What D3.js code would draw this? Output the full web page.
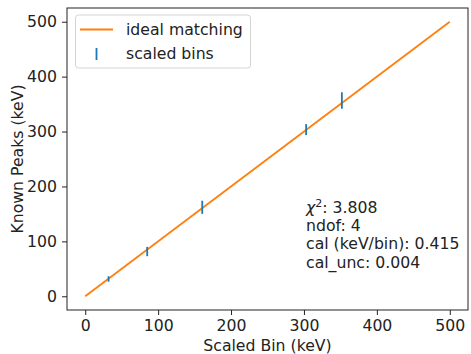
<!DOCTYPE html>
<html>
<head>
<meta charset="utf-8">
<script src="https://cdn.jsdelivr.net/npm/d3@7"></script>
<style>
    body { margin: 0; background: #fff; }
    svg { display: block; font-family: "DejaVu Sans", sans-serif; }
</style>
</head>
<body>
<div class="wrapper"></div>
<script>
let width = 471;
let height = 354;
let fontSize = 15.7;

// data
let scaledBins = [32, 85, 160.5, 303, 352];
let knownPeaks = [31.5, 81.5, 162, 303.5, 356.5];
let peakErrors = [5, 8.5, 12, 10, 15];
let idealLine = [0, 500];
let tickValues = [0, 100, 200, 300, 400, 500];
let fitText = ["ndof: 4", "cal (keV/bin): 0.415", "cal_unc: 0.004"];
let legendLabels = ["ideal matching", "scaled bins"];

let margin = {left: 67, right: 3, top: 8, bottom: 44};

let svg = d3.select(".wrapper")
    .append("svg")
    .attr("width", width)
    .attr("height", height);

let x = d3.scaleLinear()
    .domain([-25, 525])
    .range([margin.left, width - margin.right]);

let y = d3.scaleLinear()
    .domain([-25, 525])
    .range([height - margin.bottom, margin.top]);

let xAxis = svg.append("g")
    .attr("transform", "translate(0," + (height - margin.bottom) + ")")
    .call(d3.axisBottom(x).tickValues(tickValues).tickSize(5).tickPadding(5));

let yAxis = svg.append("g")
    .attr("transform", "translate(" + margin.left + ",0)")
    .call(d3.axisLeft(y).tickValues(tickValues).tickSize(5).tickPadding(5));

[xAxis, yAxis].forEach(function (g) {
    g.select(".domain").remove();
    g.selectAll("text")
        .attr("font-size", fontSize)
        .attr("fill", "#222")
        .attr("font-family", "DejaVu Sans");
    g.selectAll("line").attr("stroke", "#222");
});

// frame
svg.append("rect")
    .attr("x", margin.left)
    .attr("y", margin.top)
    .attr("width", width - margin.left - margin.right)
    .attr("height", height - margin.top - margin.bottom)
    .attr("fill", "none")
    .attr("stroke", "#222")
    .attr("stroke-width", 1);

// ideal matching line
svg.append("line")
    .attr("x1", x(idealLine[0]))
    .attr("y1", y(idealLine[0]))
    .attr("x2", x(idealLine[1]))
    .attr("y2", y(idealLine[1]))
    .attr("stroke", "#ff7f0e")
    .attr("stroke-width", 1.8);

// error bars
svg.selectAll(".errbar")
    .data(scaledBins)
    .enter()
    .append("line")
    .classed("errbar", true)
    .attr("x1", function (d) {return x(d)})
    .attr("x2", function (d) {return x(d)})
    .attr("y1", function (d, i) {return y(knownPeaks[i] - peakErrors[i])})
    .attr("y2", function (d, i) {return y(knownPeaks[i] + peakErrors[i])})
    .attr("stroke", "#1f77b4")
    .attr("stroke-width", 1.8);

// axis labels
svg.append("text")
    .attr("x", (margin.left + width - margin.right) / 2)
    .attr("y", 351)
    .attr("text-anchor", "middle")
    .attr("font-size", fontSize)
    .attr("fill", "#222")
    .text("Scaled Bin (keV)");

svg.append("text")
    .attr("transform", "translate(23," + ((margin.top + height - margin.bottom) / 2) + ") rotate(-90)")
    .attr("text-anchor", "middle")
    .attr("font-size", fontSize)
    .attr("fill", "#222")
    .text("Known Peaks (keV)");

// fit summary
let note = svg.append("text")
    .attr("x", 306)
    .attr("y", 213)
    .attr("font-size", fontSize)
    .attr("fill", "#222");
note.append("tspan").attr("font-style", "italic").text("\u03C7");
note.append("tspan").attr("dy", -6).attr("font-size", 11).text("2");
note.append("tspan").attr("dy", 6).text(": 3.808");

svg.selectAll(".fitline")
    .data(fitText)
    .enter()
    .append("text")
    .classed("fitline", true)
    .attr("x", 306)
    .attr("y", function (d, i) {return 231 + i * 18.3})
    .attr("font-size", fontSize)
    .attr("fill", "#222")
    .text(function (d) {return d});

// legend
let legend = svg.append("g");
legend.append("rect")
    .attr("x", 75.5)
    .attr("y", 15)
    .attr("width", 175)
    .attr("height", 53)
    .attr("rx", 3)
    .attr("fill", "#fff")
    .attr("fill-opacity", 0.8)
    .attr("stroke", "#d5d5d5");

legend.append("line")
    .attr("x1", 80)
    .attr("x2", 113)
    .attr("y1", 29.5)
    .attr("y2", 29.5)
    .attr("stroke", "#ff7f0e")
    .attr("stroke-width", 1.8);

legend.append("line")
    .attr("x1", 96.5)
    .attr("x2", 96.5)
    .attr("y1", 48)
    .attr("y2", 60)
    .attr("stroke", "#1f77b4")
    .attr("stroke-width", 1.8);

legend.selectAll(".legtext")
    .data(legendLabels)
    .enter()
    .append("text")
    .classed("legtext", true)
    .attr("x", 126)
    .attr("y", function (d, i) {return 35 + i * 24})
    .attr("font-size", fontSize)
    .attr("fill", "#222")
    .text(function (d) {return d});
</script>
</body>
</html>
